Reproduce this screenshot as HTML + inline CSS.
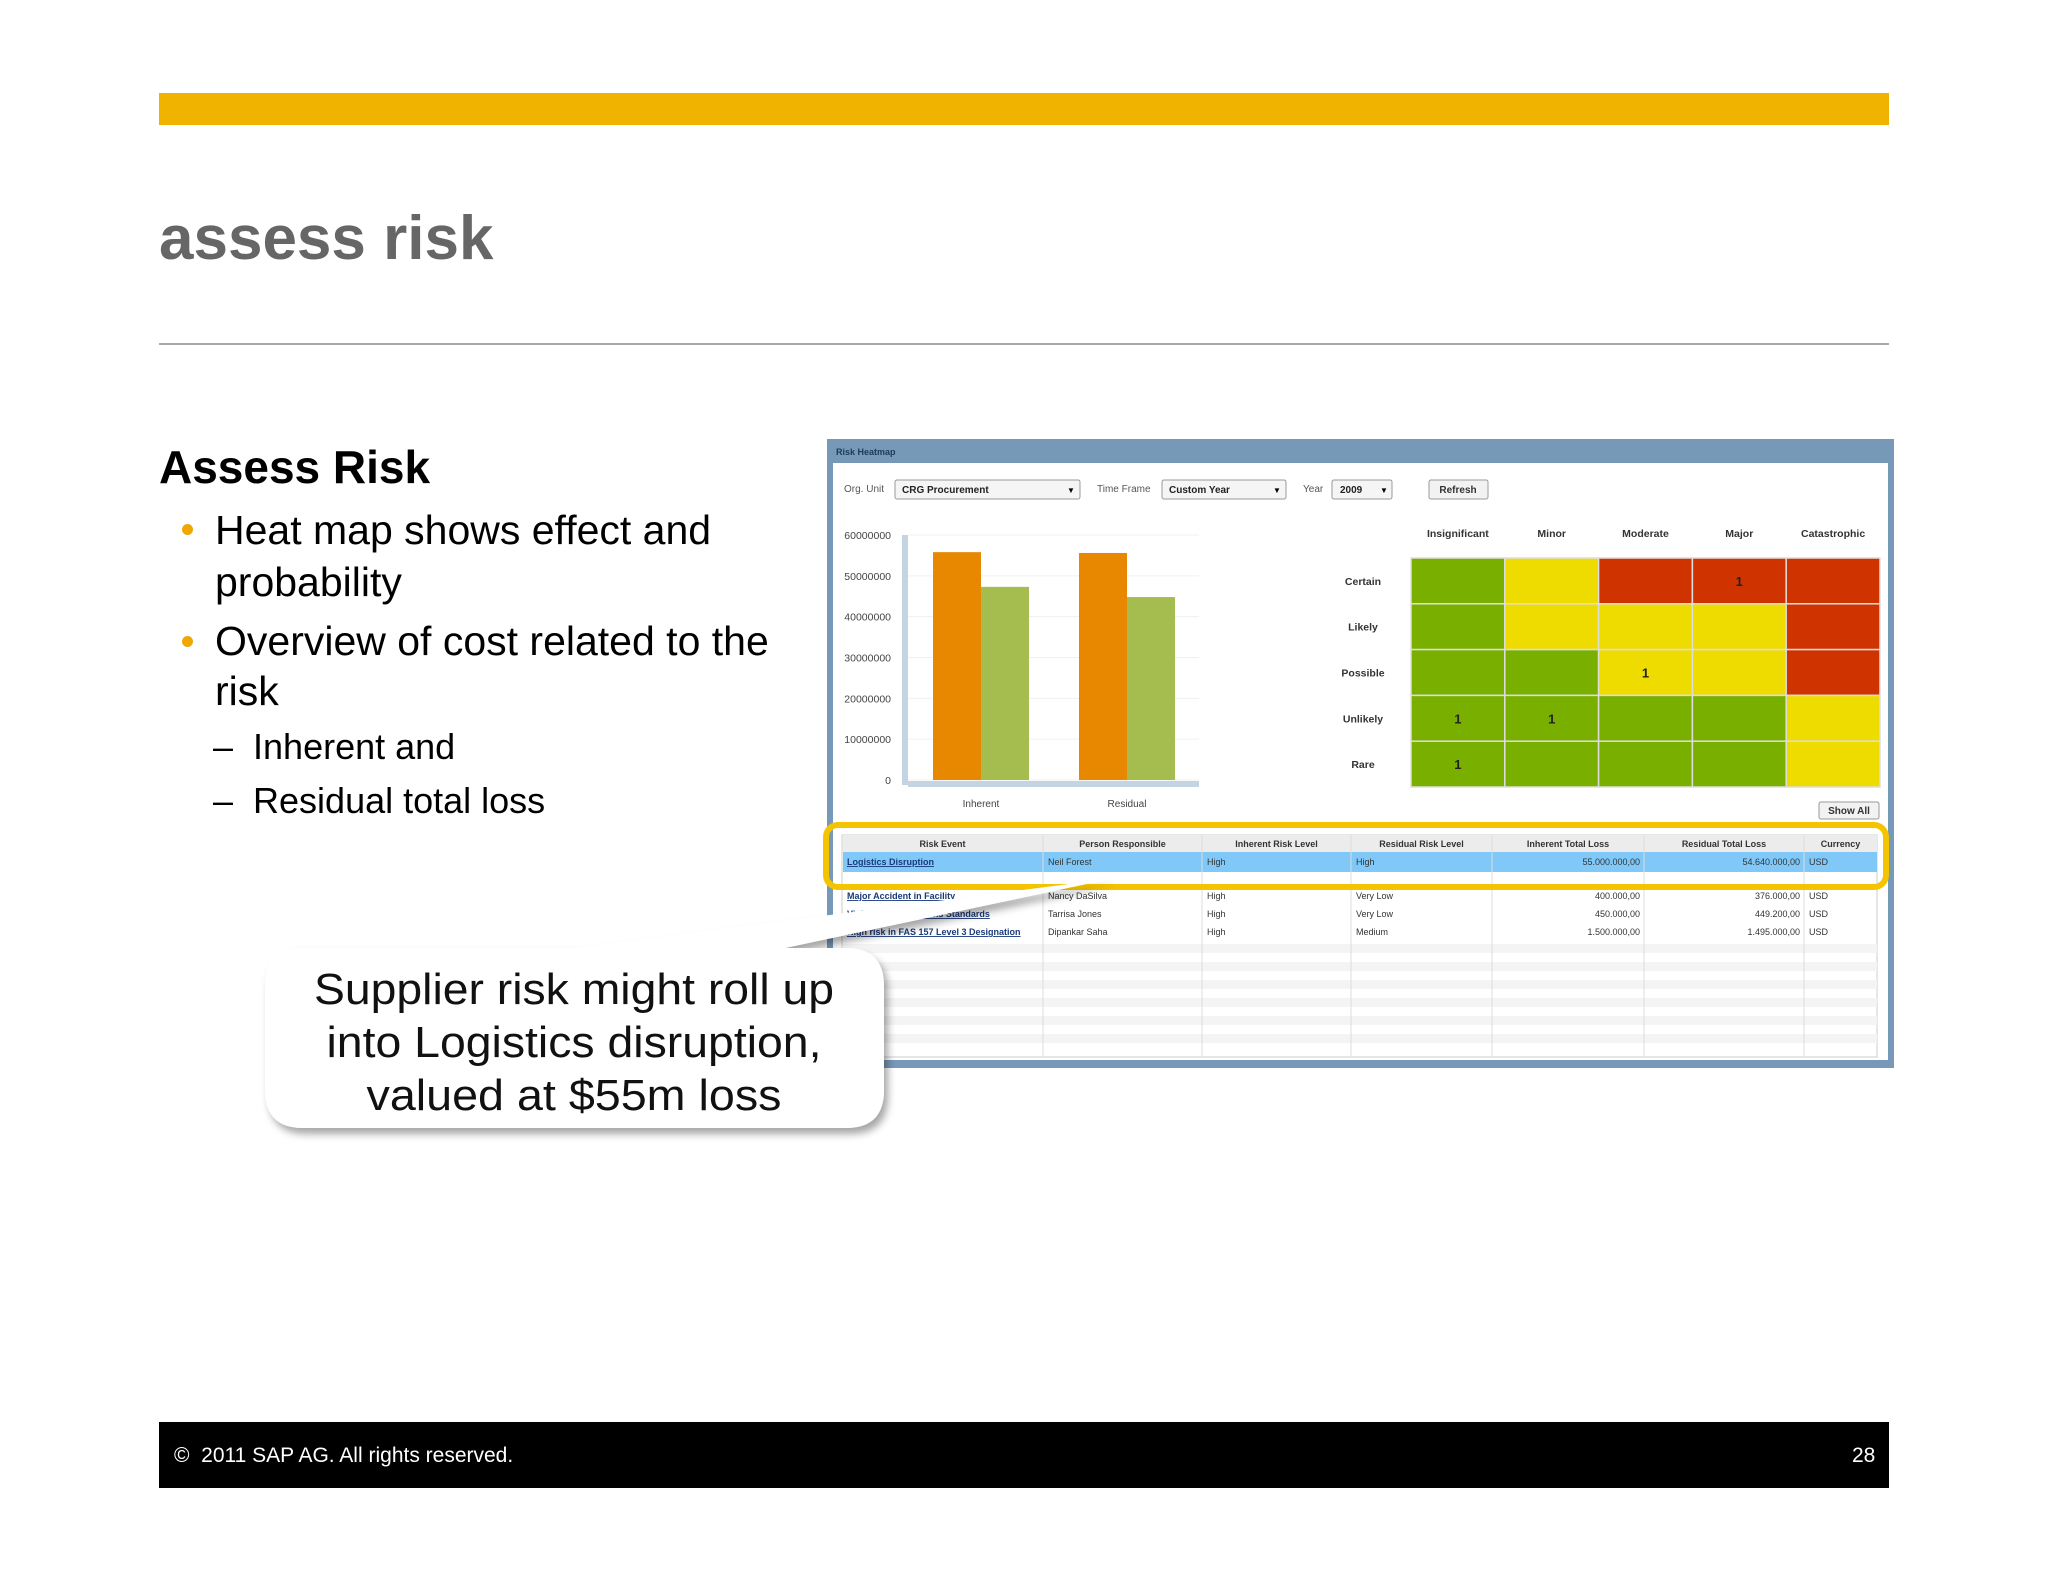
<!DOCTYPE html>
<html><head><meta charset="utf-8"><style>
body{margin:0;width:2048px;height:1582px;background:#fff;position:relative;overflow:hidden;font-family:"Liberation Sans",sans-serif}
.a{position:absolute;white-space:nowrap}
</style></head><body>
<div class="a" style="left:159px;top:93px;width:1730px;height:32px;background:#f0b400"></div>
<div class="a" style="left:159px;top:204px;font-size:62px;font-weight:bold;color:#666;line-height:70px">assess risk</div>
<div class="a" style="left:159px;top:343px;width:1730px;height:2px;background:#aaa"></div>
<div class="a" style="left:159px;top:442px;font-size:46px;font-weight:bold;line-height:50px">Assess Risk</div>
<div class="a" style="left:215px;top:504px;font-size:41px;line-height:52px">Heat map shows effect and<br>probability</div>
<div class="a" style="left:215px;top:616px;font-size:41px;line-height:50px">Overview of cost related to the<br>risk</div>
<div class="a" style="left:182px;top:524px;width:11px;height:11px;border-radius:50%;background:#f0a800"></div>
<div class="a" style="left:182px;top:636px;width:11px;height:11px;border-radius:50%;background:#f0a800"></div>
<div class="a" style="left:213px;top:727px;font-size:36px;line-height:40px">–&nbsp;&nbsp;Inherent and</div>
<div class="a" style="left:213px;top:781px;font-size:36px;line-height:40px">–&nbsp;&nbsp;Residual total loss</div>

<svg class="a" style="left:0;top:0" width="2048" height="1582" font-family="Liberation Sans, sans-serif">
<defs><filter id="sh" x="-10%" y="-10%" width="130%" height="140%"><feDropShadow dx="4" dy="6" stdDeviation="4" flood-color="#000" flood-opacity="0.35"/></filter></defs>
<rect x="827" y="439" width="1067" height="629" fill="#7699b8"/>
<text x="836" y="455" font-size="9" font-weight="bold" fill="#1d3a5a">Risk Heatmap</text>
<rect x="833" y="463" width="1055" height="597" fill="#fff"/>
<g font-size="10" fill="#555">
<text x="844" y="492">Org. Unit</text><text x="1097" y="492">Time Frame</text><text x="1303" y="492">Year</text></g>
<g><rect x="895" y="480" width="185" height="19" rx="2" fill="#f5f5f5" stroke="#999"/><text x="902" y="493" font-size="10" font-weight="bold" fill="#222">CRG Procurement</text><text x="1067" y="493" font-size="8">▼</text></g>
<g><rect x="1162" y="480" width="124" height="19" rx="2" fill="#f5f5f5" stroke="#999"/><text x="1169" y="493" font-size="10" font-weight="bold" fill="#222">Custom Year</text><text x="1273" y="493" font-size="8">▼</text></g>
<g><rect x="1332" y="480" width="60" height="19" rx="2" fill="#f5f5f5" stroke="#999"/><text x="1340" y="493" font-size="10" font-weight="bold" fill="#222">2009</text><text x="1380" y="493" font-size="8">▼</text></g>
<g><rect x="1429" y="480" width="59" height="19" rx="2" fill="#f2f2f2" stroke="#999"/><text x="1458" y="493" font-size="10" font-weight="bold" fill="#333" text-anchor="middle">Refresh</text></g>
<g id="chart"></g>
<g id="heat"></g>
<g><rect x="1819" y="802" width="60" height="17" rx="2" fill="#f2f2f2" stroke="#999"/><text x="1849" y="814" font-size="10" font-weight="bold" fill="#333" text-anchor="middle">Show All</text></g>
<g id="table"></g>
<rect x="826" y="825" width="1060" height="62" rx="12" fill="none" stroke="#f5c400" stroke-width="6"/>
<g filter="url(#sh)">
<path d="M300 948 L575 948 L1115 878 L785 948 L846 948 Q884 948 884 986 L884 1090 Q884 1128 846 1128 L303 1128 Q265 1128 265 1090 L265 986 Q265 948 300 948 Z" fill="#fff"/>
</g>
<g font-size="44" text-anchor="middle" fill="#111">
<text x="574" y="1004" textLength="520" lengthAdjust="spacingAndGlyphs">Supplier risk might roll up</text>
<text x="574" y="1057" textLength="495" lengthAdjust="spacingAndGlyphs">into Logistics disruption,</text>
<text x="574" y="1110" textLength="415" lengthAdjust="spacingAndGlyphs">valued at $55m loss</text></g>
</svg>
<div class="a" style="left:159px;top:1422px;width:1730px;height:66px;background:#000"></div>
<div class="a" style="left:174px;top:1444px;font-size:21px;color:#fff">©&nbsp; 2011 SAP AG. All rights reserved.</div>
<div class="a" style="left:1852px;top:1444px;font-size:21px;color:#fff">28</div>
<script>
const NS='http://www.w3.org/2000/svg';
function mk(p,t,a,txt){const e=document.createElementNS(NS,t);for(const k in a)e.setAttribute(k,a[k]);if(txt!=null)e.textContent=txt;p.appendChild(e);return e;}
// chart data
const categories=['Inherent','Residual'];
const orangeValues=[55800000,55600000];
const greenValues=[47300000,44800000];
const yTicks=[0,10000000,20000000,30000000,40000000,50000000,60000000];
const ch=document.getElementById('chart');
const y0=780,y1=535,vmax=60000000;
const yS=v=>y0-(v/vmax)*(y0-y1);
const groupX=i=>933+i*146;
yTicks.forEach(t=>{const y=yS(t);
 mk(ch,'line',{x1:908,x2:1199,y1:y,y2:y,stroke:'#f0f0f0'});
 const l=mk(ch,'text',{x:891,y:y+4,'font-size':10.5,fill:'#444','text-anchor':'end'},String(t));
 });
mk(ch,'rect',{x:902,y:535,width:6,height:250,fill:'#c5d4e2'});
mk(ch,'rect',{x:908,y:781,width:291,height:6,fill:'#c5d4e2'});
categories.forEach((c,i)=>{const x=groupX(i);
 const b1=mk(ch,'rect',{x:x,y:yS(orangeValues[i]),width:48,height:y0-yS(orangeValues[i]),fill:'#e88800'});
 
 const b2=mk(ch,'rect',{x:x+48,y:yS(greenValues[i]),width:48,height:y0-yS(greenValues[i]),fill:'#a5bd4e'});
 
 const l=mk(ch,'text',{x:x+48,y:807,'font-size':10,fill:'#444','text-anchor':'middle'},c);
 });
// heatmap data
const impactCols=['Insignificant','Minor','Moderate','Major','Catastrophic'];
const likelihoodRows=['Certain','Likely','Possible','Unlikely','Rare'];
const levels=[['g','y','r','r','r'],['g','y','y','y','r'],['g','g','y','y','r'],['g','g','g','g','y'],['g','g','g','g','y']];
const counts=[[0,0,0,1,0],[0,0,0,0,0],[0,0,1,0,0],[1,1,0,0,0],[1,0,0,0,0]];
const colors={g:'#79b000',y:'#eedc00',r:'#cf3300'};
const hm=document.getElementById('heat');
const hx=1411,hy=558,cw=(1880-1411)/5,chh=(787-558)/5;
impactCols.forEach((c,j)=>{const t=mk(hm,'text',{x:hx+cw*j+cw/2,y:537,'font-size':10.5,'font-weight':'bold',fill:'#333','text-anchor':'middle'},c);
 });
likelihoodRows.forEach((r,i)=>{const t=mk(hm,'text',{x:1363,y:hy+chh*i+chh/2+4,'font-size':10.5,'font-weight':'bold',fill:'#333','text-anchor':'middle'},r);
 
 impactCols.forEach((c,j)=>{const e=mk(hm,'rect',{x:hx+cw*j,y:hy+chh*i,width:cw,height:chh,fill:colors[levels[i][j]],stroke:'#ddd','stroke-width':1.5});
  
  if(counts[i][j]){mk(hm,'text',{x:hx+cw*j+cw/2,y:hy+chh*i+chh/2+5,'font-size':13,'font-weight':'bold',fill:'#222','text-anchor':'middle'},String(counts[i][j]));}});});
// table
const headers=['Risk Event','Person Responsible','Inherent Risk Level','Residual Risk Level','Inherent Total Loss','Residual Total Loss','Currency'];
const colX=[842,1043,1202,1351,1492,1644,1804,1877];
const rows=[['Logistics Disruption','Neil Forest','High','High','55.000.000,00','54.640.000,00','USD'],
['Major Accident in Facility','Nancy DaSilva','High','Very Low','400.000,00','376.000,00','USD'],
['Violation of Emissions Standards','Tarrisa Jones','High','Very Low','450.000,00','449.200,00','USD'],
['High risk in FAS 157 Level 3 Designation','Dipankar Saha','High','Medium','1.500.000,00','1.495.000,00','USD']];
const rowY=[852,886,904,922];
const tb=document.getElementById('table');
mk(tb,'rect',{x:842,y:835,width:1035,height:222,fill:'#fff',stroke:'#ccc'});
for(let k=0;k<6;k++)mk(tb,'rect',{x:843,y:944+k*18,width:1034,height:9,fill:'#f4f4f4'});
mk(tb,'rect',{x:843,y:835,width:1034,height:17,fill:'#ececec'});
mk(tb,'rect',{x:843,y:852,width:1034,height:20,fill:'#80c8f8'});
colX.slice(1,7).forEach(x=>mk(tb,'line',{x1:x,x2:x,y1:835,y2:1057,stroke:'#ddd'}));
headers.forEach((h,j)=>{const t=mk(tb,'text',{x:(colX[j]+colX[j+1])/2,y:847,'font-size':9,'font-weight':'bold',fill:'#333','text-anchor':'middle'},h);
 });
rows.forEach((r,i)=>{const y=rowY[i]+13;
 r.forEach((v,j)=>{const right=(j==4||j==5);
  const t=mk(tb,'text',{x:right?colX[j+1]-4:colX[j]+5,y:y,'font-size':9,fill:j==0?'#1a3a7a':'#333','text-anchor':right?'end':'start','text-decoration':j==0?'underline':'none','font-weight':j==0?'bold':'normal'},v);
  });});
</script>
</body></html>
